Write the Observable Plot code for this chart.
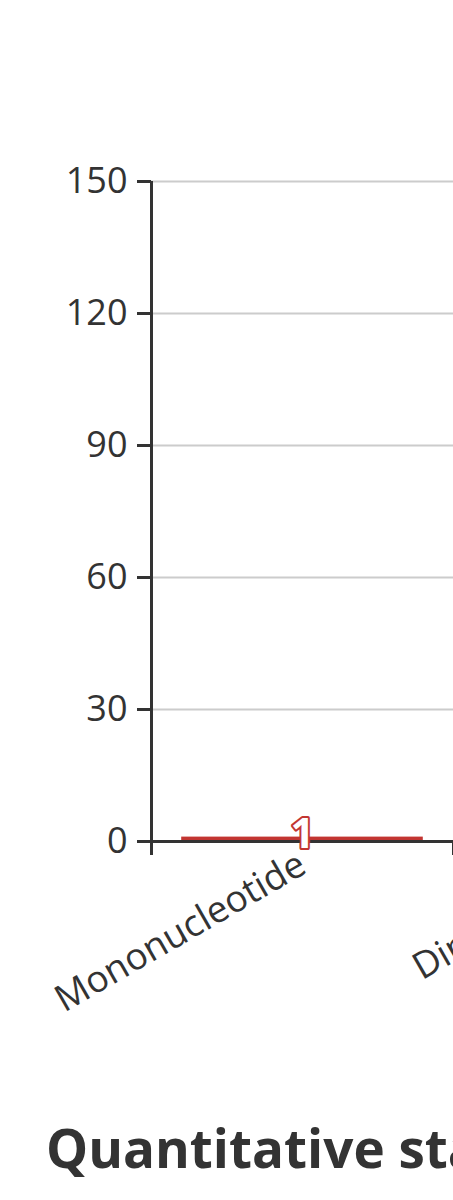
<!DOCTYPE html>
<html>
<head>
<meta charset="utf-8">
<script src="https://cdn.jsdelivr.net/npm/d3@7"></script>
<script src="https://cdn.jsdelivr.net/npm/@observablehq/plot@0.6"></script>
<style>
  html, body { margin: 0; padding: 0; background: #fff; overflow: hidden; }
  #title { font-family: "Open Sans", sans-serif; font-weight: 700; font-size: 53px; color: #333;
           white-space: nowrap; padding-left: 46px; margin-top: 36px; line-height: 1.2; }
</style>
</head>
<body>
<div id="chart"></div>
<div id="title"></div>
<script>
const categories = ["Mononucleotide", "Dinucleotide", "Trinucleotide", "Tetranucleotide", "Pentanucleotide", "Hexanucleotide"];
const counts = [1, 37, 132, 12, 3, 5];
const yTicks = [0, 30, 60, 90, 120, 150];
const titleText = "Quantitative statistics of SSR";

const rows = categories.map((c, i) => ({category: c, value: counts[i], i}));
const n = categories.length;
const step = 302;
const marginLeft = 151, marginRight = 40, marginTop = 181, marginBottom = 239;
const width = marginLeft + n * step + marginRight;
const height = 1080;
const font = "'Open Sans', sans-serif";

const svg = Plot.plot({
  width, height, marginLeft, marginRight, marginTop, marginBottom,
  style: {fontFamily: font, color: "#333", background: "#fff", maxWidth: "none"},
  x: {type: "linear", domain: [0, n], axis: null},
  y: {domain: [0, 150], axis: null},
  marks: [
    Plot.gridY(yTicks, {stroke: "#ccc", strokeOpacity: 1, strokeWidth: 2}),
    Plot.rectY(rows, {x1: d => d.i, x2: d => d.i + 1, y: "value", fill: "#c23531", insetLeft: step * 0.1, insetRight: step * 0.1}),
    Plot.ruleY([0], {stroke: "#333", strokeWidth: 3}),
    Plot.ruleX([0], {stroke: "#333", strokeWidth: 3}),
    Plot.axisX({ticks: d3.range(n + 1), tickSize: 14, tickFormat: () => "", stroke: "#333", strokeWidth: 3, label: null}),
    Plot.axisY({ticks: yTicks, tickSize: 14, tickPadding: 10, fontSize: 36, stroke: "#333", strokeWidth: 3, fill: "#333", label: null}),
    Plot.text(rows, {x: d => d.i + 0.5, y: 0, text: "category", rotate: -30, textAnchor: "end", lineAnchor: "middle", dy: 20, fontSize: 37, fill: "#333"}),
    Plot.text(rows, {x: d => d.i + 0.5, y: "value", text: d => String(d.value), textAnchor: "middle", lineAnchor: "middle", dy: -3, fontSize: 42, fontWeight: "bold", fill: "#fff", stroke: "#c23531", strokeWidth: 4, paintOrder: "stroke"})
  ]
});
svg.style.maxWidth = "none";
document.getElementById("chart").appendChild(svg);
document.getElementById("title").textContent = titleText;
</script>
</body>
</html>
